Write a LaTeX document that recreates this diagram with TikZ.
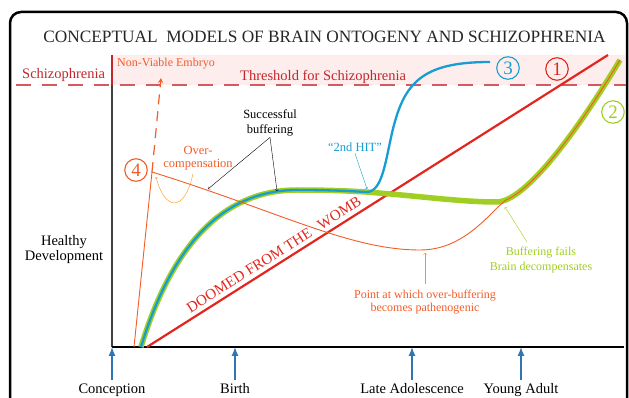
\documentclass[tikz,border=0pt]{standalone}
\usepackage{fontspec}
\setmainfont{Liberation Serif}
\usetikzlibrary{shapes,arrows,positioning,calc}
\definecolor{threshred}{RGB}{193,39,45}
\definecolor{dashred}{RGB}{212,90,95}
\definecolor{bandpink}{RGB}{253,237,237}
\definecolor{doomred}{RGB}{226,38,30}
\definecolor{buffgreen}{RGB}{160,206,34}
\definecolor{hitblue}{RGB}{22,158,212}
\definecolor{overorange}{RGB}{242,92,40}
\definecolor{softorange}{RGB}{247,150,30}
\definecolor{eventblue}{RGB}{46,117,182}

\begin{document}
\begin{tikzpicture}[x=1pt, y=-1pt,
    lbl/.style={align=center, inner sep=1pt, font=\fontsize{12.5}{14}\selectfont},
    big/.style={align=center, inner sep=1pt, font=\fontsize{14.5}{15}\selectfont},
    num/.style={draw, circle, line width=1.1pt, minimum size=22.5pt, inner sep=0pt, font=\fontsize{19}{19}\selectfont},
    event/.style={-latex, line width=2pt, eventblue, shorten <=2pt}]
    \useasboundingbox (0,0) rectangle (629,398);
    \draw[line width=2.5pt, rounded corners=11pt] (10,12) rectangle (627,430);
    \node[font=\fontsize{17.3}{17}\selectfont, text=black!85] (title) at (324.5,36.5) {CONCEPTUAL\ \ MODELS OF BRAIN ONTOGENY AND SCHIZOPHRENIA};

    % threshold band
    \fill[bandpink] (112,55) rectangle (625,85);
    \draw[dashred, line width=2pt, dash pattern=on 15pt off 11pt] (16,85) -- (626,85);
    \node[big, text=threshred, anchor=base west] (schizo) at (21,79) {Schizophrenia};
    \node[big, text=threshred, anchor=base west] (threshold) at (239,81) {Threshold for Schizophrenia};
    \node[lbl, font=\fontsize{12}{14}\selectfont, text=overorange, anchor=base west] (nonviable) at (116,67) {Non-Viable Embryo};

    % axes
    \coordinate (top) at (112,55);
    \coordinate (thr) at (112,85);
    \coordinate (origin) at (112,347);
    \coordinate (xend) at (624,347);
    \draw[threshred, line width=1.5pt] (top) -- (thr);
    \draw[black!75, line width=1.2pt] (thr) -- (origin);
    \draw[line width=1.3pt] (origin) -- (xend);
    \node[big, anchor=base] (healthy) at (64,260) {Healthy\\Development};

    % time points
    \node[big, anchor=base] (conception) at (112,393) {Conception};
    \node[big, anchor=base] (birth) at (235,393) {Birth};
    \node[big, anchor=base] (lateadol) at (412,393) {Late Adolescence};
    \node[big, anchor=base] (youngadult) at (521,393) {Young Adult};
    \foreach \ev in {conception,birth,lateadol,youngadult}
        \draw[event] (\ev.north) -- (\ev.north |- origin);

    % model 1
    \coordinate (d0) at (147,347);
    \coordinate (d1) at (608,55);
    \draw[doomred, line width=2.2pt] (d0) -- node[pos=0.287, sloped, above=4pt, inner sep=0pt, font=\fontsize{15}{15}\selectfont] (doomed) {DOOMED FROM THE\hspace{10pt}WOMB} (d1);

    % models 2 and 3
    \draw[buffgreen, line width=5.5pt] (141,347) .. controls (168,258) and (215,190) .. (297,190)
        .. controls (330,190) and (350,191) .. (366,192)
        .. controls (420,196) and (460,202) .. (497,202)
        .. controls (525,201) and (575,135) .. (620,60);
    \draw[hitblue, line width=2.3pt] (141,347) .. controls (168,258) and (215,190) .. (297,190)
        .. controls (330,190) and (350,191) .. (366,192)
        .. controls (385,193) and (386,150) .. (396,118)
        .. controls (408,78) and (430,62) .. (490,62);

    % model 4
    \coordinate (peak4) at (152,172);
    \coordinate (embryo) at (161,78);
    \draw[overorange, line width=0.9pt] (134,347) -- (peak4)
        .. controls (280,212) and (350,250) .. (420,250)
        .. controls (465,250) and (490,212) .. (506,200)
        .. controls (535,187.7) and (579.5,127.5) .. (620,60);
    \draw[overorange, line width=1.2pt, dash pattern=on 10pt off 7pt, -stealth] (peak4) -- (embryo);

    % model numbers
    \node[num, doomred] (m1) at (557,69) {1};
    \node[num, buffgreen] (m2) at (613,112) {2};
    \node[num, hitblue] (m3) at (508,68) {3};
    \node[num, overorange] (m4) at (136,170) {4};

    % labels
    \node[lbl, font=\fontsize{12.5}{15}\selectfont, anchor=base] (buffering) at (270,133.5) {Successful\\buffering};
    \coordinate (bufa) at (208,189);
    \coordinate (bufb) at (277,191);
    \draw[->] (buffering.south) -- (bufa);
    \draw[->] (buffering.south) -- (bufb);

    \node[lbl, font=\fontsize{12.5}{13.4}\selectfont, text=overorange, anchor=base] (overcomp) at (198,167.7) {Over-\\compensation};
    \coordinate (octip) at (156,177);
    \draw[softorange, ->] ($(overcomp.south)+(-5,2)$) .. controls (185,212) and (165,212) .. (octip);

    \node[lbl, text=hitblue, anchor=base] (hit) at (355,152) {“2nd HIT”};
    \coordinate (hittip) at (367,189);
    \draw[hitblue, ->] (hit.south) -- (hittip);

    \node[lbl, font=\fontsize{12}{14.3}\selectfont, text=buffgreen, anchor=base] (fails) at (541,270) {Buffering fails\\Brain decompensates};
    \coordinate (failtip) at (505,207);
    \draw[buffgreen, ->] ($(fails.north)+(-14,-4)$) -- (failtip);

    \node[lbl, font=\fontsize{12}{13}\selectfont, text=overorange, anchor=base] (pathogen) at (425,311) {Point at which over-buffering\\becomes pathenogenic};
    \coordinate (pathtip) at (425,253);
    \draw[softorange, ->, shorten <=4pt] (pathogen.north) -- (pathtip);
\end{tikzpicture}
\end{document}
